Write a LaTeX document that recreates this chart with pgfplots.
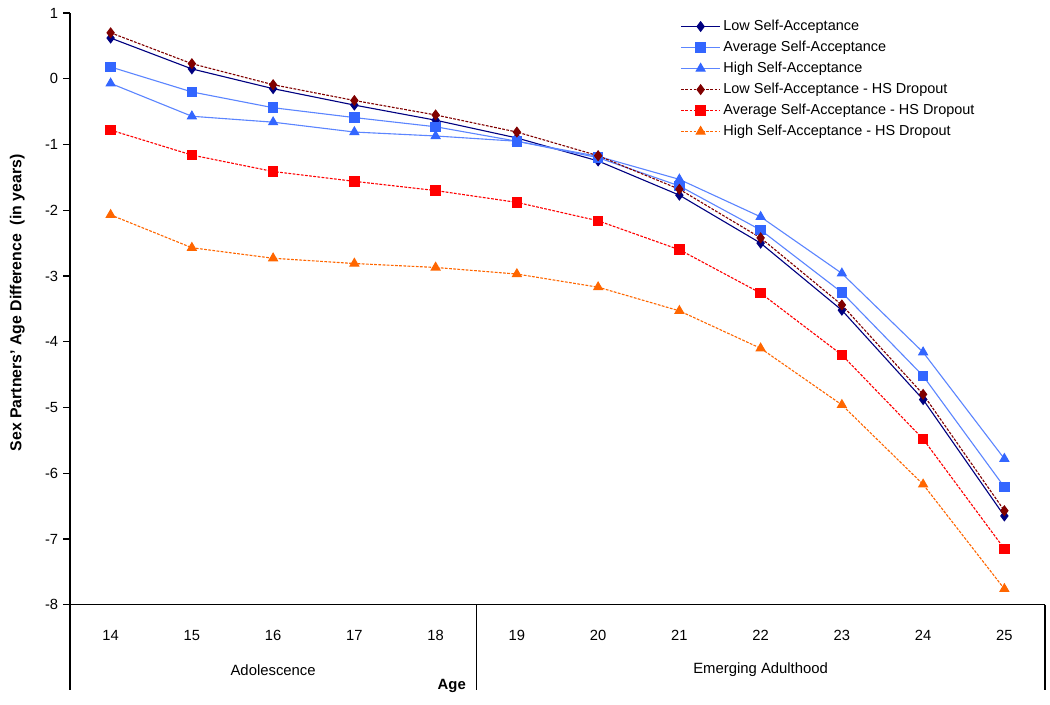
\documentclass[border=0pt]{standalone}
\usepackage{fontspec}
\setmainfont{Liberation Sans}
\usepackage{pgfplots}
\pgfplotsset{compat=1.18}

\definecolor{navyc}{HTML}{000080}
\definecolor{bluec}{HTML}{3366FF}
\definecolor{bluel}{HTML}{5C85FF}
\definecolor{darkr}{HTML}{800000}
\definecolor{redc}{HTML}{FF0000}
\definecolor{orngc}{HTML}{FF6600}

\begin{document}
\begin{tikzpicture}
\begin{axis}[
    name=ax, at={(0,0)}, anchor=south west,
    scale only axis, width=702pt, height=426pt,
    xmin=13.5, xmax=25.5, ymin=-8, ymax=1,
    axis x line*=bottom, axis y line*=left,
    axis line style={-, black, line width=0.8pt},
    clip=false,
    xtick={14,15,16,17,18,19,20,21,22,23,24,25},
    xticklabels={14,15,16,17,18,19,20,21,22,23,24,25},
    xtick style={draw=none},
    xticklabel style={yshift=-10pt},
    ytick={-8,-7,-6,-5,-4,-3,-2,-1,0,1},
    yticklabels={-8,-7,-6,-5,-4,-3,-2,-1,0,1},
    tick align=outside, major tick length=5pt,
    ytick style={black, line width=0.8pt},
    tick label style={font=\fontsize{10.6}{12}\selectfont},
    ylabel={\textbf{Sex Partners' Age Difference \ (in years)}},
    every axis y label/.style={at={(rel axis cs:0,0.51)}, xshift=-38pt, rotate=90, anchor=center, font=\fontsize{11.4}{13}\selectfont},
    legend style={at={(rel axis cs:0.626,0.993)}, anchor=north west, draw=none, fill=none,
        font=\fontsize{10.4}{11}\selectfont, row sep=2.1pt, inner sep=0pt,
        cells={anchor=west}},
    legend image code/.code={\draw[mark repeat=2,mark phase=2] plot coordinates {(0pt,0pt)(14pt,0pt)(28pt,0pt)};},
    every axis plot/.append style={line width=0.8pt},
]
\addplot[navyc, mark=diamond*, mark size=3.4pt, mark options={solid, fill=navyc}] coordinates {
(14,0.62) (15,0.15) (16,-0.15) (17,-0.40) (18,-0.63) (19,-0.90)
(20,-1.25) (21,-1.77) (22,-2.50) (23,-3.52) (24,-4.88) (25,-6.65)};
\addlegendentry{Low Self-Acceptance}
\addplot[bluel, mark=square*, mark size=3.4pt, mark options={solid, draw=bluec, fill=bluec}] coordinates {
(14,0.18) (15,-0.20) (16,-0.44) (17,-0.59) (18,-0.73) (19,-0.95)
(20,-1.20) (21,-1.63) (22,-2.30) (23,-3.25) (24,-4.52) (25,-6.21)};
\addlegendentry{Average Self-Acceptance}
\addplot[bluel, mark=triangle*, mark size=3.6pt, mark options={solid, draw=bluec, fill=bluec}] coordinates {
(14,-0.07) (15,-0.57) (16,-0.66) (17,-0.81) (18,-0.87) (19,-0.95)
(20,-1.18) (21,-1.53) (22,-2.10) (23,-2.96) (24,-4.16) (25,-5.78)};
\addlegendentry{High Self-Acceptance}
\addplot[darkr, dash pattern=on 2pt off 1pt, mark=diamond*, mark size=3.4pt, mark options={solid, fill=darkr}] coordinates {
(14,0.70) (15,0.23) (16,-0.09) (17,-0.33) (18,-0.55) (19,-0.81)
(20,-1.17) (21,-1.68) (22,-2.42) (23,-3.44) (24,-4.80) (25,-6.57)};
\addlegendentry{Low Self-Acceptance - HS Dropout}
\addplot[redc, dash pattern=on 2pt off 1pt, mark=square*, mark size=3.4pt, mark options={solid, fill=redc}] coordinates {
(14,-0.78) (15,-1.16) (16,-1.41) (17,-1.56) (18,-1.70) (19,-1.88)
(20,-2.16) (21,-2.60) (22,-3.26) (23,-4.20) (24,-5.48) (25,-7.15)};
\addlegendentry{Average Self-Acceptance - HS Dropout}
\addplot[orngc, dash pattern=on 2pt off 1pt, mark=triangle*, mark size=3.6pt, mark options={solid, fill=orngc}] coordinates {
(14,-2.07) (15,-2.57) (16,-2.73) (17,-2.81) (18,-2.87) (19,-2.97)
(20,-3.17) (21,-3.53) (22,-4.10) (23,-4.96) (24,-6.17) (25,-7.76)};
\addlegendentry{High Self-Acceptance - HS Dropout}

% category group separators below the axis
\draw[black, line width=0.8pt] (axis cs:13.5,-8) -- ++(0pt,-61.2pt);
\draw[black, line width=0.8pt] (axis cs:18.5,-8) -- ++(0pt,-61.2pt);
\draw[black, line width=0.8pt] (axis cs:25.5,-8) -- ++(0pt,-61.2pt);
\node[font=\fontsize{10.7}{12}\selectfont, yshift=-46.8pt] at (axis cs:16,-8) {Adolescence};
\node[font=\fontsize{10.7}{12}\selectfont, yshift=-46.8pt] at (axis cs:22,-8) {Emerging Adulthood};
\node[font=\fontsize{10.7}{12}\selectfont\bfseries, anchor=east, yshift=-58.3pt, xshift=-4pt] at (axis cs:18.5,-8) {Age};
\end{axis}
\pgfresetboundingbox
\path (-50.4pt,-72pt) rectangle (705.6pt,435.4pt);
\end{tikzpicture}
\end{document}
